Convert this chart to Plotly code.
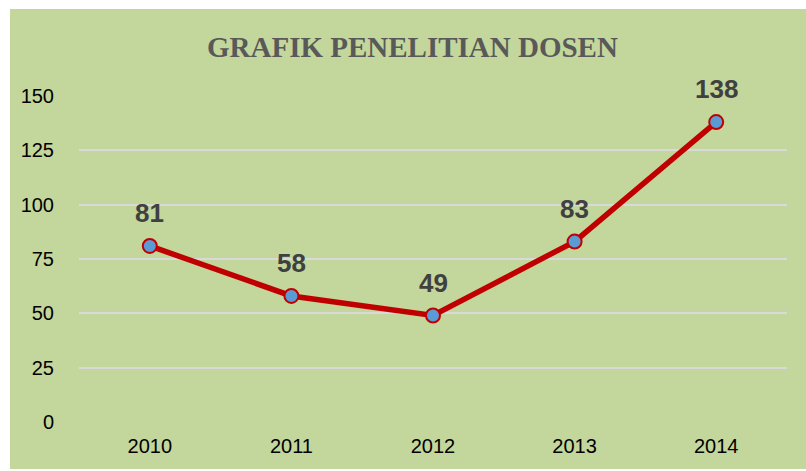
import plotly.graph_objects as go

years = ["2010", "2011", "2012", "2013", "2014"]
values = [81, 58, 49, 83, 138]
y_ticks = [0, 25, 50, 75, 100, 125, 150]
title_text = "GRAFIK PENELITIAN DOSEN"

W, H = 806, 471
L, R, T, B = 79, 19, 96, 49
pw, ph = W - L - R, H - T - B

def px_x(x):
    return (x - L) / pw

def px_y(y):
    return (H - B - y) / ph

fig = go.Figure()
fig.add_trace(go.Scatter(
    x=years, y=values, mode="lines+markers",
    line=dict(color="#c00000", width=5.5),
    marker=dict(size=14, color="#5b9bd5", line=dict(color="#c00000", width=2)),
    hoverinfo="skip", showlegend=False,
))

for i, v in enumerate(values):
    fig.add_annotation(x=i, y=v, text="<b>" + str(v) + "</b>", showarrow=False, yshift=33,
                       font=dict(family="Liberation Sans, Arial", size=26, color="#404040"),
                       xanchor="center", yanchor="middle")

fig.add_shape(type="rect", xref="paper", yref="paper",
              x0=px_x(10), x1=px_x(806), y0=px_y(469), y1=px_y(9),
              fillcolor="#c3d69b", line=dict(width=0), layer="below")

fig.add_annotation(xref="paper", yref="paper", x=px_x(412), y=px_y(47),
                   text="<b>" + title_text + "</b>", showarrow=False,
                   xanchor="center", yanchor="middle",
                   font=dict(family="Liberation Serif, Times New Roman", size=29, color="#595959"))

tick_font = dict(family="Liberation Sans, Arial", size=20, color="#000000")

fig.update_layout(
    width=W, height=H,
    margin=dict(l=L, r=R, t=T, b=B, pad=0),
    paper_bgcolor="white", plot_bgcolor="rgba(0,0,0,0)",
    xaxis=dict(type="category", range=[-0.5, 4.5], showgrid=False, zeroline=False, showline=False,
               ticks="outside", ticklen=6, tickcolor="rgba(0,0,0,0)",
               tickfont=tick_font, fixedrange=True),
    yaxis=dict(range=[0, 150], tickvals=y_ticks, showgrid=True, gridcolor="#d9d9d9",
               gridwidth=2, zeroline=False, showline=False,
               ticks="outside", ticklen=20, tickcolor="rgba(0,0,0,0)",
               tickfont=tick_font, fixedrange=True),
)

fig.write_html("out.html")
